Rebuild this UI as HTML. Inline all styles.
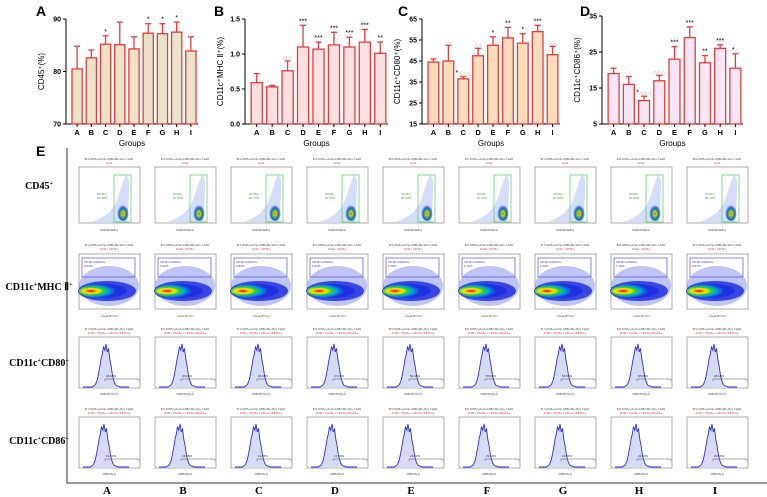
<!DOCTYPE html>
<html><head><meta charset="utf-8"><style>
body{margin:0;background:#fff;}
svg{display:block;font-family:"Liberation Sans",sans-serif;}
</style></head><body>
<svg id="fig" width="767" height="497" viewBox="0 0 767 497"></svg>
<script>
const groups=["A","B","C","D","E","F","G","H","I"];
const valsA=[80.5,82.6,85.2,85.1,84.3,87.3,87.2,87.5,83.9];
const errA=[84.8,84.1,86.8,89.4,86.6,89.1,89.1,89.4,86.6];
const sigA=["","","*","","","*","*","*",""];
const valsB=[0.59,0.53,0.76,1.10,1.07,1.13,1.10,1.17,1.01];
const errB=[0.72,0.55,0.90,1.41,1.17,1.31,1.24,1.35,1.17];
const sigB=["","","△△","***","***","***","***","***","**"];
const valsC=[44.5,45,36.5,47.5,52.5,56,53.5,59,48];
const errC=[46,52.5,37.5,51,56.5,61,58,62,52];
const sigC=["","","*△△△","△△","*","**","*","***","△△"];
const valsD=[19,16,11.5,17,23,29,22,26,20.5];
const errD=[20.5,18.2,12.7,18.5,26.5,32,24,27,24.5];
const sigD=["","","*△△△","△△△","***","***","**","***","*△"];
const ticksA=[70,80,90], ticksB=[0.0,0.5,1.0,1.5], ticksC=[15,25,35,45,55,65], ticksD=[5,15,25,35];
const cd45Pct=["82.30%","81.69%","84.77%","83.65%","86.60%","87.19%","87.03%","86.86%","85.40%"];
const mhcPct=["0.53%","0.52%","0.80%","1.01%","1.08%","1.12%","1.09%","1.10%","0.97%"];
const cd80Pct=["46.09%","45.20%","36.30%","47.29%","52.45%","55.82%","53.54%","58.80%","48.10%"];
const cd86Pct=["19.23%","16.26%","11.45%","17.00%","23.02%","29.10%","22.09%","26.02%","20.50%"];
const histShape=[0,0,1,2,4,8,14,22,30,36,44,40,47,38,42,30,24,14,8,4,2,1,1,0,0];

const NS="http://www.w3.org/2000/svg";
const svg=document.getElementById('fig');
function el(tag,attrs,parent){const e=document.createElementNS(NS,tag);for(const k in attrs)e.setAttribute(k,attrs[k]);(parent||svg).appendChild(e);return e;}
function txt(s,attrs,parent){const t=el('text',attrs,parent);t.textContent=s;return t;}

const defs=el('defs',{});
const rg=el('radialGradient',{id:'dens',cx:'0.25',cy:'0.5',r:'0.75'},defs);
[["0","#e00000"],["0.12","#ff8800"],["0.22","#ffee00"],["0.35","#30d030"],["0.5","#00a0e0"],["0.7","#2030e0"],["1","#2030e0"]].forEach(s=>el('stop',{offset:s[0],'stop-color':s[1]},rg));
const rg2=el('radialGradient',{id:'dens45',cx:'0.5',cy:'0.6',r:'0.5'},defs);
[["0","#e02000"],["0.2","#ffcc00"],["0.4","#40c040"],["0.65","#2060e0"],["1","#3040e0","0"]].forEach(s=>{const o=el('stop',{offset:s[0],'stop-color':s[1]},rg2);if(s[2])o.setAttribute('stop-opacity','0');});

function barChart(name,letter,lx,ax,yTop,yBot,xEnd,ticks,vals,errs,sigs,fill,ylabel){
  const g=el('g',{});
  
  
  const min=ticks[0],max=ticks[ticks.length-1];
  const y=v=>yBot-(v-min)/(max-min)*(yBot-yTop);
  const slot=(xEnd-ax-4)/vals.length, bw=slot*0.72;
  const xc=i=>ax+4+slot*(i+0.5);
  const L=txt(letter,{x:lx,y:16,'font-size':14,'font-weight':'bold'},g);
  
  
  el('line',{x1:ax,y1:yTop,x2:ax,y2:yBot,stroke:'#000','stroke-width':1},g);
  el('line',{x1:ax,y1:yBot,x2:xEnd,y2:yBot,stroke:'#000','stroke-width':1},g);
  ticks.forEach(t=>{
    el('line',{x1:ax-3,y1:y(t),x2:ax,y2:y(t),stroke:'#000'},g);
    const tt=txt(min<1&&max<2?t.toFixed(1):String(t),{x:ax-5,y:y(t)+2.5,'font-size':7,'text-anchor':'end','font-weight':'bold'},g);
    
    
  });
  vals.forEach((v,i)=>{
    const x=xc(i);
    el('line',{x1:x,y1:y(errs[i]),x2:x,y2:y(v),stroke:'#e83a3a','stroke-width':1.3},g);
    el('line',{x1:x-3,y1:y(errs[i]),x2:x+3,y2:y(errs[i]),stroke:'#e83a3a','stroke-width':1.3},g);
    const r=el('rect',{x:x-bw/2,y:y(v),width:bw,height:yBot-y(v),fill:fill,stroke:'#e83a3a','stroke-width':1.3},g);
    
    
    el('line',{x1:x,y1:yBot,x2:x,y2:yBot+3,stroke:'#000'},g);
    const xl=txt(groups[i],{x:x,y:yBot+11,'font-size':7.5,'text-anchor':'middle','font-weight':'bold'},g);
    
    
    if(sigs[i]){
      const s=sigs[i]; const star=s.replace(/△/g,''), tri=s.replace(/\*/g,'');
      const st=txt('',{x:x,y:y(errs[i])-2,'font-size':7,'text-anchor':'middle'},g);
      if(star){const a=el('tspan',{fill:'#000'},st);a.textContent=star;}
      if(tri){const b=el('tspan',{fill:'#aaa','font-size':5.5},st);b.textContent=tri;}
      
      
    }
  });
  const xt=txt('Groups',{x:(ax+xEnd)/2,y:yBot+22,'font-size':8,'text-anchor':'middle'},g);
  
  
  const yt=txt(ylabel,{x:0,y:0,'font-size':8,'text-anchor':'middle',transform:`translate(${ax-22},${(yTop+yBot)/2}) rotate(-90)`},g);
  
  
}
barChart('chart-cd45','A',36,66,19,124,198,ticksA,valsA,errA,sigA,'#ebe3c8','CD45⁺(%)');
barChart('chart-mhc','B',214,245,19,124,388,ticksB,valsB,errB,sigB,'#fde0e0','CD11c⁺MHC Ⅱ⁺(%)');
barChart('chart-cd80','C',398,422,19,124,560,ticksC,valsC,errC,sigC,'#fbdcbc','CD11c⁺CD80⁺(%)');
barChart('chart-cd86','D',580,602,16,124,743,ticksD,valsD,errD,sigD,'#f6e6f6','CD11c⁺CD86⁺(%)');

const E=txt('E',{x:36,y:156,'font-size':14,'font-weight':'bold'});


el('polyline',{points:'67,148 67,483 767,483',fill:'none',stroke:'#333','stroke-width':1});
const rowNames=[["CD45","+"],["CD11c","+","MHC Ⅱ","+"],["CD11c","+","CD80","+"],["CD11c","+","CD86","+"]];
const rowY=[189,290,366,444];
rowNames.forEach((r,k)=>{
  const t=txt('',{x:39,y:rowY[k],'font-size':10,'text-anchor':'middle','font-family':'Liberation Serif, serif','font-weight':'bold'});
  for(let j=0;j<r.length;j++){const sp=el('tspan',j%2?{dy:-4,'font-size':6}:{dy:j?4:0},t);sp.textContent=r[j];}
  
  
});
for(let i=0;i<9;i++){
  const x0=79+i*76;
  const cl=txt(groups[i],{x:x0+28,y:494,'font-size':11,'text-anchor':'middle','font-family':'Liberation Serif, serif','font-weight':'bold'});
  
  
  let g=el('g',{});
  
  
  txt('B-'+(i+1)+'-CD45+I-A/I-E+CD80+86+11C+7-AAD',{x:x0+30,y:160,'font-size':2.6,'text-anchor':'middle',fill:'#444'},g);
  txt('LIVE',{x:x0+30,y:164,'font-size':3,'text-anchor':'middle',fill:'#e33'},g);
  el('rect',{x:x0,y:167,width:61,height:56,fill:'#fff',stroke:'#777','stroke-width':0.6},g);
  el('path',{d:`M${x0+12},222 Q${x0+32},216 ${x0+38},200 Q${x0+44},182 ${x0+47},174 L${x0+50},180 Q${x0+50},205 ${x0+48},222 Z`,fill:'#6f8ef0',opacity:0.3},g);
  el('ellipse',{cx:x0+44,cy:212,rx:6,ry:9,fill:'url(#dens45)'},g);
  el('rect',{x:x0+35,y:175,width:17,height:47,fill:'none',stroke:'#5c5','stroke-width':0.7},g);
  txt('CD45+',{x:x0+18,y:195,'font-size':3,fill:'#3a3'},g);
  txt(cd45Pct[i],{x:x0+18,y:199,'font-size':3,fill:'#3a3'},g);
  txt('CD45-BV605-H',{x:x0+30,y:231,'font-size':2.6,'text-anchor':'middle',fill:'#444'},g);
  g=el('g',{});
  
  
  txt('B-'+(i+1)+'-CD45+I-A/I-E+CD80+86+11C+7-AAD',{x:x0+30,y:246,'font-size':2.6,'text-anchor':'middle',fill:'#444'},g);
  txt('LIVE / CD45+',{x:x0+30,y:250,'font-size':3,'text-anchor':'middle',fill:'#e33'},g);
  el('rect',{x:x0,y:254,width:61,height:55,fill:'#fff',stroke:'#777','stroke-width':0.6},g);
  el('ellipse',{cx:x0+30,cy:286,rx:30,ry:20,fill:'#2a3ae0',opacity:0.3},g);
  el('ellipse',{cx:x0+28,cy:291,rx:29,ry:10,fill:'#2030e0',opacity:0.85},g);
  el('ellipse',{cx:x0+24,cy:291,rx:24,ry:7,fill:'url(#dens)'},g);
  el('rect',{x:x0+3,y:258,width:53,height:19,fill:'none',stroke:'#55c','stroke-width':0.7},g);
  txt('CD11C+MHCII+',{x:x0+5,y:263,'font-size':3,fill:'#33c'},g);
  txt(mhcPct[i],{x:x0+5,y:267,'font-size':3,fill:'#33c'},g);
  txt('I-A/I-E-FITC-H',{x:x0+30,y:317,'font-size':2.6,'text-anchor':'middle',fill:'#444'},g);
  [[337,cd80Pct,'cd80'],[417,cd86Pct,'cd86']].forEach(([yt,pc,nm],k)=>{
    const h=el('g',{});
    
    
    txt('B-'+(i+1)+'-CD45+I-A/I-E+CD80+86+11C+7-AAD',{x:x0+30,y:yt-7,'font-size':2.6,'text-anchor':'middle',fill:'#444'},h);
    txt('LIVE / CD45+ / CD11C+MHCII+',{x:x0+30,y:yt-3,'font-size':3,'text-anchor':'middle',fill:'#e33'},h);
    el('rect',{x:x0,y:yt,width:61,height:51,fill:'#fff',stroke:'#777','stroke-width':0.6},h);
    const base=yt+50, off=k?-2:0;
    let d=`M${x0+4},${base}`;
    histShape.forEach((v,j)=>{d+=` L${(x0+12+off+j*1.25).toFixed(1)},${(base-v*0.92).toFixed(1)}`;});
    d+=` L${x0+50},${base}`;
    el('path',{d:d+' Z',fill:'#d6dbf5',stroke:'none'},h);
    el('path',{d:d,fill:'none',stroke:'#3030d0','stroke-width':0.9},h);
    el('polyline',{points:`${x0+26},${base-6} ${x0+26},${base-8} ${x0+60},${base-8} ${x0+60},${base-6}`,fill:'none',stroke:'#555','stroke-width':0.5},h);
    txt(pc[i],{x:x0+27,y:base-10,'font-size':3,fill:'#333'},h);
    txt(nm==='cd80'?'CD80-BV421-H':'CD86-PE-H',{x:x0+30,y:base+8,'font-size':2.6,'text-anchor':'middle',fill:'#444'},h);
  });
}
</script>
</body></html>
